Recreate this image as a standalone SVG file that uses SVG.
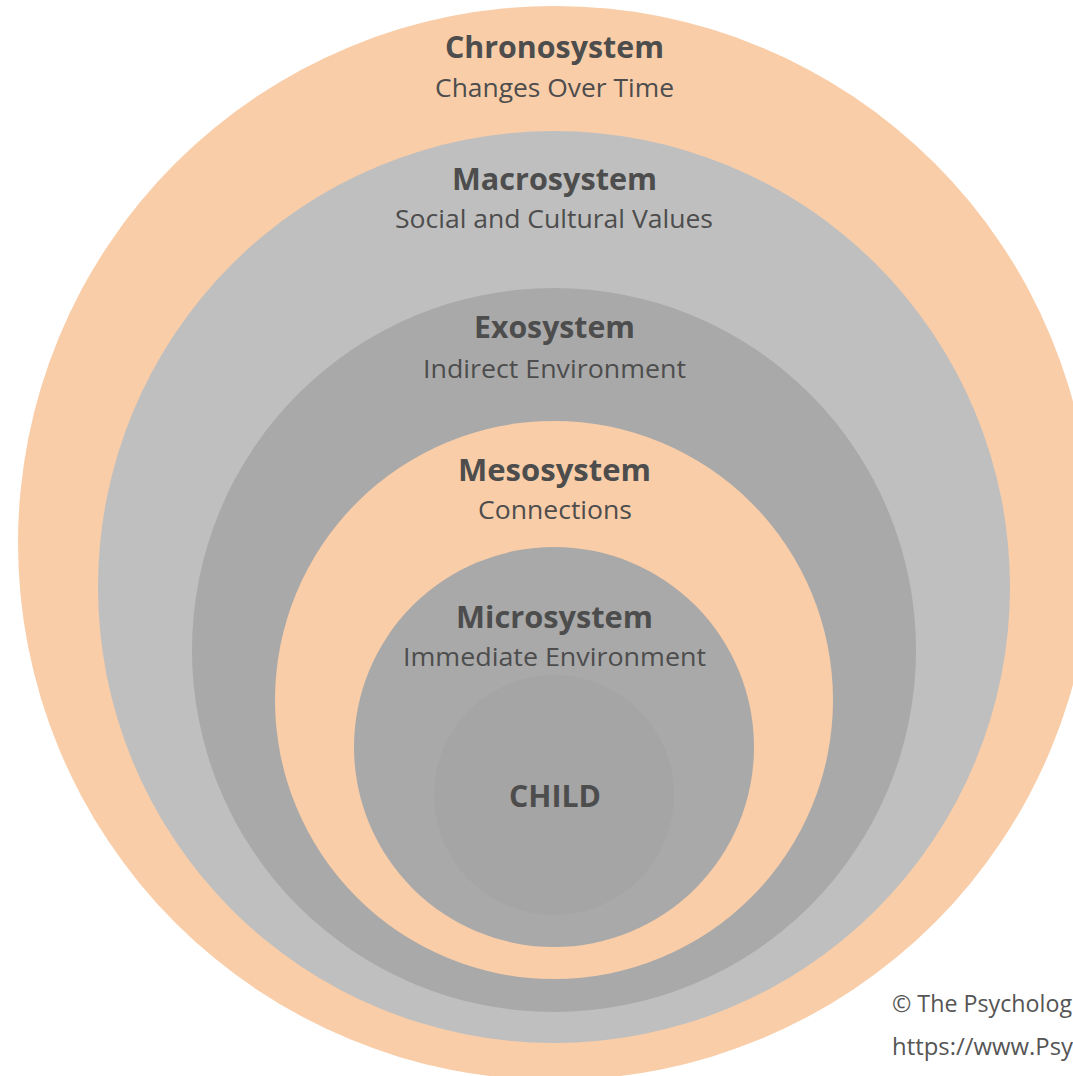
<svg xmlns="http://www.w3.org/2000/svg" width="1073" height="1076" viewBox="0 0 1073 1076">
  <style>
    .peach { fill: #F9CDA8; }
    .light { fill: #BFBFBF; }
    .mid { fill: #A9A9A9; }
    .core { fill: #A5A5A5; }
    text { font-family: "Open Sans", "Liberation Sans", sans-serif; fill: #4D4D4D; text-anchor: middle; }
    .title { font-size: 31px; font-weight: 700; }
    .sub { font-size: 26px; font-weight: 400; }
    .note { font-size: 23px; font-weight: 400; text-anchor: start; fill: #555555; }
  </style>
  <rect x="0" y="0" width="1073" height="1076" fill="#FFFFFF"/>

  <!-- Nested layers, outermost first -->
  <g id="chronosystem">
    <circle class="peach" cx="555" cy="543" r="537"/>
    <text class="title" x="554.5" y="58.3" textLength="219" lengthAdjust="spacingAndGlyphs">Chronosystem</text>
    <text class="sub" x="554.5" y="97.3" textLength="239" lengthAdjust="spacingAndGlyphs">Changes Over Time</text>
  </g>

  <g id="macrosystem">
    <circle class="light" cx="554" cy="587" r="456"/>
    <text class="title" x="554.5" y="190" textLength="205" lengthAdjust="spacingAndGlyphs">Macrosystem</text>
    <text class="sub" x="554" y="228.3" textLength="318" lengthAdjust="spacingAndGlyphs">Social and Cultural Values</text>
  </g>

  <g id="exosystem">
    <circle class="mid" cx="554" cy="650" r="362"/>
    <text class="title" x="554.5" y="338" textLength="161" lengthAdjust="spacingAndGlyphs">Exosystem</text>
    <text class="sub" x="554.5" y="377.7" textLength="263" lengthAdjust="spacingAndGlyphs">Indirect Environment</text>
  </g>

  <g id="mesosystem">
    <circle class="peach" cx="554" cy="700" r="279"/>
    <text class="title" x="554.5" y="481" textLength="193" lengthAdjust="spacingAndGlyphs">Mesosystem</text>
    <text class="sub" x="555" y="519" textLength="154" lengthAdjust="spacingAndGlyphs">Connections</text>
  </g>

  <g id="microsystem">
    <circle class="mid" cx="554" cy="747" r="200"/>
    <text class="title" x="554.5" y="628" textLength="197" lengthAdjust="spacingAndGlyphs">Microsystem</text>
    <text class="sub" x="554.5" y="666" textLength="303" lengthAdjust="spacingAndGlyphs">Immediate Environment</text>
  </g>

  <g id="child">
    <circle class="core" cx="554" cy="795" r="120"/>
    <text class="title" x="555" y="807" textLength="92" lengthAdjust="spacingAndGlyphs">CHILD</text>
  </g>

  <!-- No connectors in this figure -->
  <g id="connectors"/>

  <g id="credit">
    <text class="note" x="892" y="1011.7" textLength="180" lengthAdjust="spacingAndGlyphs">© The Psycholog</text>
    <text class="note" x="892" y="1055" textLength="181" lengthAdjust="spacingAndGlyphs">https://www.Psy</text>
  </g>
</svg>
